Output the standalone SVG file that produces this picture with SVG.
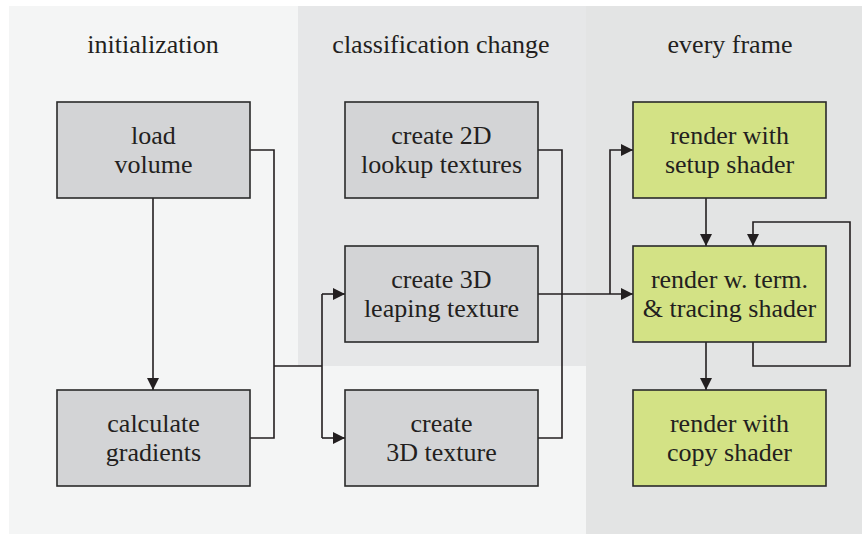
<svg xmlns="http://www.w3.org/2000/svg" width="862" height="534" viewBox="0 0 862 534">
<style>
text{font-family:"Liberation Serif","Times New Roman",serif;font-size:26px;fill:#231f20;text-anchor:middle}
.box{fill:#d3d4d6;stroke:#2a2a2a;stroke-width:1.6}
.gbox{fill:#d3e285;stroke:#2a2a2a;stroke-width:1.6}
.c{fill:none;stroke:#231f20;stroke-width:1.6}
</style>
<defs>
<marker id="a" viewBox="0 0 12 12" refX="12" refY="6" markerWidth="12" markerHeight="12" markerUnits="userSpaceOnUse" orient="auto">
<path d="M0,0 L12,6 L0,12 Z" fill="#231f20"/>
</marker>
</defs>
<rect width="862" height="534" fill="#ffffff"/>
<g id="panels">
<rect x="9" y="6" width="577" height="528" fill="#f4f5f5"/>
<rect x="298" y="6" width="288" height="360" fill="#e6e7e8"/>
<rect x="586" y="6" width="276" height="528" fill="#e3e4e4"/>
</g>
<g id="titles">
<text x="153" y="53">initialization</text>
<text x="441" y="53">classification change</text>
<text x="730" y="53">every frame</text>
</g>
<g id="connectors">
<path class="c" d="M250,150 H274 V366 M250,438 H274 V366 H322 M322,294 V438"/>
<path class="c" marker-end="url(#a)" d="M322,294 H345"/>
<path class="c" marker-end="url(#a)" d="M322,438 H345"/>
<path class="c" marker-end="url(#a)" d="M153,198 V390"/>
<path class="c" d="M538,150 H562 V438 H538"/>
<path class="c" marker-end="url(#a)" d="M538,294 H633"/>
<path class="c" marker-end="url(#a)" d="M610,294 V150 H633"/>
<path class="c" marker-end="url(#a)" d="M706,198 V246"/>
<path class="c" marker-end="url(#a)" d="M706,342 V390"/>
<path class="c" marker-end="url(#a)" d="M753,342 V366 H850 V222 H753 V246"/>
</g>
<g id="load-volume">
<rect class="box" x="57" y="102" width="193" height="96"/>
<text x="153.5" y="144">load</text>
<text x="153.5" y="173">volume</text>
</g>
<g id="calculate-gradients">
<rect class="box" x="57" y="390" width="193" height="96"/>
<text x="153.5" y="432">calculate</text>
<text x="153.5" y="461">gradients</text>
</g>
<g id="create-2d">
<rect class="box" x="345" y="102" width="193" height="96"/>
<text x="441.5" y="144">create 2D</text>
<text x="441.5" y="173">lookup textures</text>
</g>
<g id="create-3d-leaping">
<rect class="box" x="345" y="246" width="193" height="96"/>
<text x="441.5" y="288">create 3D</text>
<text x="441.5" y="317">leaping texture</text>
</g>
<g id="create-3d-texture">
<rect class="box" x="345" y="390" width="193" height="96"/>
<text x="441.5" y="432">create</text>
<text x="441.5" y="461">3D texture</text>
</g>
<g id="render-setup">
<rect class="gbox" x="633" y="102" width="193" height="96"/>
<text x="729.5" y="144">render with</text>
<text x="729.5" y="173">setup shader</text>
</g>
<g id="render-tracing">
<rect class="gbox" x="633" y="246" width="193" height="96"/>
<text x="729.5" y="288">render w. term.</text>
<text x="729.5" y="317">&amp; tracing shader</text>
</g>
<g id="render-copy">
<rect class="gbox" x="633" y="390" width="193" height="96"/>
<text x="729.5" y="432">render with</text>
<text x="729.5" y="461">copy shader</text>
</g>
</svg>
